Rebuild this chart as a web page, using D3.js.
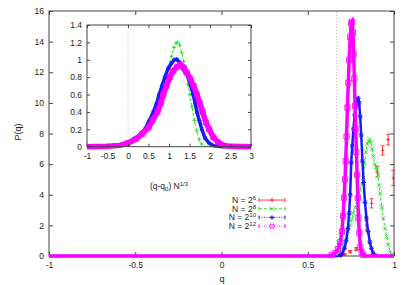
<!DOCTYPE html>
<html>
<head>
<meta charset="utf-8">
<script src="https://cdn.jsdelivr.net/npm/d3@7"></script>
<style>
  body { margin: 0; background: #fff; }
  svg { display: block; font-family: "Liberation Sans", Arial, sans-serif; }
</style>
</head>
<body>
<svg id="chart" width="407" height="285"></svg>
<script>
// exponent of N = 2^k for each curve
const exponents = ["6", "8", "10", "12"];

const xTicks = [-1, -0.5, 0, 0.5, 1];
const yTicks = [0, 2, 4, 6, 8, 10, 12, 14, 16];
const insetXTicks = [-1, -0.5, 0, 0.5, 1, 1.5, 2, 2.5, 3];
const insetYTicks = [0, 0.2, 0.4, 0.6, 0.8, 1, 1.2, 1.4];
const qMark = 0.667;   // dotted line in main plot
const insetMark = 0;   // dotted line in inset

// main plot, [q, P(q)] ; N=2^6 has [q, P, error]
const mainN6 = [
  [0.685, 0.05, 0.04], [0.714, 0.10, 0.05], [0.745, 0.28, 0.08], [0.781, 0.46, 0.1],
  [0.84, 2.0, 0.3], [0.87, 3.44, 0.3], [0.903, 5.5, 0.35], [0.934, 6.9, 0.3],
  [0.966, 7.6, 0.35], [0.996, 5.1, 0.5]
];
const mainN8 = [
  [-1, 0], [0.67, 0], [0.68, 0.05], [0.687, 0.17], [0.697, 0.35], [0.706, 0.6], [0.716, 0.9],
  [0.726, 1.26], [0.735, 1.6], [0.745, 2.0], [0.755, 2.4], [0.764, 2.8], [0.774, 3.15],
  [0.787, 3.55], [0.796, 3.9], [0.803, 4.3], [0.813, 4.7], [0.822, 5.1], [0.83, 6.0],
  [0.838, 6.8], [0.845, 7.3], [0.852, 7.5], [0.859, 7.6], [0.866, 7.4], [0.873, 7.0],
  [0.88, 6.5], [0.888, 6.0], [0.896, 5.8], [0.903, 5.6], [0.909, 5.3], [0.914, 4.6],
  [0.919, 4.1], [0.929, 3.2], [0.938, 2.46], [0.948, 1.8], [0.958, 1.26], [0.967, 0.72],
  [0.977, 0.28], [0.987, 0.08], [0.995, 0], [1, 0]
];
const mainN10 = [
  [-1, 0], [0.67, 0], [0.69, 0.05], [0.70, 0.15], [0.713, 0.5], [0.723, 1.0], [0.733, 1.8],
  [0.74, 2.8], [0.746, 4.0], [0.752, 6.1], [0.758, 7.2], [0.765, 8.3], [0.772, 9.2],
  [0.779, 9.8], [0.786, 10.2], [0.792, 10.3], [0.798, 10.0], [0.804, 9.1], [0.81, 7.9],
  [0.817, 6.2], [0.824, 4.8], [0.832, 3.5], [0.84, 2.5], [0.85, 1.6], [0.86, 0.9],
  [0.869, 0.5], [0.878, 0.2], [0.89, 0.05], [0.90, 0], [1, 0]
];
const mainN12 = [
  [-1, 0], [0.62, 0], [0.64, 0.05], [0.66, 0.2], [0.675, 0.45], [0.688, 0.9], [0.698, 1.6],
  [0.705, 2.6], [0.711, 3.8], [0.716, 5.0], [0.72, 6.2], [0.725, 7.8], [0.73, 9.7],
  [0.735, 11.3], [0.74, 12.8], [0.746, 14.3], [0.752, 15.2], [0.757, 15.3], [0.762, 14.6],
  [0.766, 13.2], [0.77, 11.6], [0.774, 9.8], [0.778, 8.3], [0.782, 6.8], [0.786, 5.3],
  [0.79, 3.8], [0.794, 2.5], [0.799, 1.5], [0.805, 0.6], [0.812, 0.25], [0.82, 0.08],
  [0.83, 0], [1, 0]
];

// inset, [(q-q0) N^1/3, P]
const insetN8 = [
  [-1, 0], [-0.5, 0.003], [0, 0.04], [0.2, 0.08], [0.4, 0.18], [0.6, 0.38], [0.75, 0.58],
  [0.85, 0.73], [0.93, 0.82], [1.0, 0.93], [1.06, 1.04], [1.12, 1.14], [1.17, 1.19],
  [1.21, 1.2], [1.26, 1.17], [1.31, 1.08], [1.36, 0.98], [1.41, 0.86], [1.46, 0.72],
  [1.51, 0.6], [1.56, 0.46], [1.62, 0.3], [1.68, 0.18], [1.74, 0.08], [1.8, 0.03],
  [1.87, 0.005], [1.95, 0], [3, 0]
];
const insetN10 = [
  [-1, 0], [-0.5, 0.005], [-0.2, 0.02], [0, 0.05], [0.15, 0.09], [0.3, 0.14], [0.41, 0.2],
  [0.52, 0.3], [0.62, 0.4], [0.7, 0.5], [0.76, 0.6], [0.83, 0.7], [0.9, 0.8], [0.98, 0.9],
  [1.06, 0.96], [1.13, 1.0], [1.19, 1.005], [1.26, 0.97], [1.33, 0.9], [1.4, 0.85],
  [1.47, 0.8], [1.53, 0.7], [1.59, 0.6], [1.64, 0.5], [1.68, 0.4], [1.74, 0.3], [1.8, 0.2],
  [1.88, 0.1], [1.98, 0.04], [2.1, 0.01], [2.3, 0], [3, 0]
];
const insetN12 = [
  [-1, 0], [-0.5, 0.005], [-0.2, 0.015], [0, 0.04], [0.2, 0.09], [0.35, 0.15], [0.5, 0.22],
  [0.6, 0.3], [0.72, 0.4], [0.8, 0.5], [0.86, 0.6], [0.94, 0.7], [1.02, 0.8], [1.1, 0.87],
  [1.2, 0.92], [1.28, 0.94], [1.36, 0.91], [1.44, 0.85], [1.52, 0.78], [1.6, 0.7],
  [1.68, 0.6], [1.75, 0.5], [1.82, 0.4], [1.9, 0.28], [1.98, 0.2], [2.08, 0.11],
  [2.2, 0.05], [2.35, 0.015], [2.5, 0.004], [3, 0]
];

const colors = ["#ff2a2a", "#22dd22", "#1a1aff", "#ff00ff"];
const dashes = [null, "3,2", "1,1.5", "1,1.5"];
const markers = ["plus", "cross", "star", "square"];

const svg = d3.select("#chart");

// marker shapes
function markerPath(type, s) {
  if (type === "plus") return `M${-s},0H${s}M0,${-s}V${s}`;
  if (type === "cross") return `M${-s},${-s}L${s},${s}M${-s},${s}L${s},${-s}`;
  if (type === "star") return `M${-s},0H${s}M0,${-s}V${s}M${-s*0.75},${-s*0.75}L${s*0.75},${s*0.75}M${-s*0.75},${s*0.75}L${s*0.75},${-s*0.75}`;
  return `M${-s},${-s}H${s}V${s}H${-s}Z`;
}

function drawMarkers(g, data, x, y, type, color, s, width) {
  g.append("g").selectAll("path")
    .data(data)
    .enter().append("path")
    .attr("transform", d => `translate(${x(d[0])},${y(d[1])})`)
    .attr("d", markerPath(type, s))
    .attr("fill", "none")
    .attr("stroke", color)
    .attr("stroke-width", width);
}

function frame(g, x, y, xt, yt, tick) {
  const [x0, x1] = x.range(), [y0, y1] = y.range();
  const fmt = d => String(d);
  g.append("g").attr("transform", `translate(0,${y0})`)
    .call(d3.axisBottom(x).tickValues(xt).tickSize(-tick).tickPadding(6).tickFormat(fmt));
  g.append("g").attr("transform", `translate(${x0},0)`)
    .call(d3.axisLeft(y).tickValues(yt).tickSize(-tick).tickPadding(5).tickFormat(fmt));
  g.append("g").attr("transform", `translate(0,${y1})`)
    .call(d3.axisTop(x).tickValues(xt).tickSize(-tick).tickFormat(""));
  g.append("g").attr("transform", `translate(${x1},0)`)
    .call(d3.axisRight(y).tickValues(yt).tickSize(-tick).tickFormat(""));
  g.selectAll(".domain").remove();
  g.selectAll(".tick line").attr("stroke", "#444");
  g.selectAll(".tick text").attr("font-size", 8.5).attr("fill", "#222")
    .attr("font-family", "Liberation Sans, Arial, sans-serif");
  g.append("rect")
    .attr("x", x0).attr("y", y1).attr("width", x1 - x0).attr("height", y0 - y1)
    .attr("fill", "none").attr("stroke", "#444").attr("stroke-width", 1);
}

// ---------- main plot ----------
const x = d3.scaleLinear().domain([-1, 1]).range([49, 394]);
const y = d3.scaleLinear().domain([0, 16]).range([256, 11]);
const main = svg.append("g");

main.append("line")
  .attr("x1", x(qMark)).attr("x2", x(qMark)).attr("y1", y(0)).attr("y2", y(16))
  .attr("stroke", "#aaa").attr("stroke-width", 0.8).attr("stroke-dasharray", "1,2");

frame(main, x, y, xTicks, yTicks, 4);

const line = d3.line().x(d => x(d[0])).y(d => y(d[1]));

// N = 2^6: points with error bars
const eb = main.append("g").attr("stroke", colors[0]).attr("stroke-width", 0.9);
mainN6.forEach(d => {
  const cx = x(d[0]), ylo = y(d[1] - d[2]), yhi = y(d[1] + d[2]);
  eb.append("line").attr("x1", cx).attr("x2", cx).attr("y1", ylo).attr("y2", yhi);
  eb.append("line").attr("x1", cx - 2).attr("x2", cx + 2).attr("y1", ylo).attr("y2", ylo);
  eb.append("line").attr("x1", cx - 2).attr("x2", cx + 2).attr("y1", yhi).attr("y2", yhi);
});
drawMarkers(main, mainN6, x, y, "plus", colors[0], 1.8, 0.9);

// N = 2^8
main.append("path").datum(mainN8).attr("d", line)
  .attr("fill", "none").attr("stroke", colors[1]).attr("stroke-width", 1)
  .attr("stroke-dasharray", dashes[1]);
drawMarkers(main, mainN8.filter(d => d[1] > 0), x, y, "cross", colors[1], 2, 0.9);

// N = 2^10
main.append("path").datum(mainN10).attr("d", line)
  .attr("fill", "none").attr("stroke", colors[2]).attr("stroke-width", 2.5);
drawMarkers(main, mainN10.filter(d => d[1] > 0), x, y, "star", colors[2], 2.4, 1);

// N = 2^12
main.append("path").datum(mainN12).attr("d", line)
  .attr("fill", "none").attr("stroke", colors[3]).attr("stroke-width", 3.5);
drawMarkers(main, mainN12.filter(d => d[1] > 0), x, y, "square", colors[3], 2.6, 0.9);

main.append("text").attr("x", 222).attr("y", 282).attr("text-anchor", "middle")
  .attr("font-size", 9).attr("fill", "#222").text("q");
main.append("text").attr("transform", "translate(21,132) rotate(-90)")
  .attr("text-anchor", "middle").attr("font-size", 9).attr("fill", "#222").text("P(q)");

// ---------- inset ----------
const xi = d3.scaleLinear().domain([-1, 3]).range([87, 251]);
const yi = d3.scaleLinear().domain([0, 1.4]).range([146.7, 25]);
const inset = svg.append("g");
inset.append("rect").attr("x", 87).attr("y", 25).attr("width", 164).attr("height", 121.7)
  .attr("fill", "#fff");
inset.append("line")
  .attr("x1", xi(insetMark)).attr("x2", xi(insetMark)).attr("y1", yi(0)).attr("y2", yi(1.4))
  .attr("stroke", "#aaa").attr("stroke-width", 0.8).attr("stroke-dasharray", "1,2");

const iline = d3.line().x(d => xi(d[0])).y(d => yi(d[1]));
inset.append("path").datum(insetN8).attr("d", iline)
  .attr("fill", "none").attr("stroke", colors[1]).attr("stroke-width", 1)
  .attr("stroke-dasharray", dashes[1]);
drawMarkers(inset, insetN8.filter(d => d[1] > 0.02), xi, yi, "plus", colors[1], 2, 0.9);
inset.append("path").datum(insetN10).attr("d", iline)
  .attr("fill", "none").attr("stroke", colors[2]).attr("stroke-width", 3.5);
drawMarkers(inset, insetN10.filter(d => d[1] > 0.02), xi, yi, "star", colors[2], 2.2, 0.9);
inset.append("path").datum(insetN12).attr("d", iline)
  .attr("fill", "none").attr("stroke", colors[3]).attr("stroke-width", 5.5);
drawMarkers(inset, insetN12.filter(d => d[1] > 0.02), xi, yi, "square", colors[3], 2.6, 0.8);

frame(inset, xi, yi, insetXTicks, insetYTicks, 3);

const il = inset.append("text").attr("x", 169).attr("y", 189).attr("text-anchor", "middle")
  .attr("font-size", 8.5).attr("fill", "#222");
il.append("tspan").text("(q-q");
il.append("tspan").attr("font-size", 6).attr("dy", 2).text("0");
il.append("tspan").attr("dy", -2).text(") N");
il.append("tspan").attr("font-size", 6).attr("dy", -3.5).text("1/3");

// ---------- legend ----------
const rowY = d3.scaleBand().domain(exponents).range([195.7, 230.5]);
const legend = svg.append("g");
exponents.forEach((k, i) => {
  const cy = rowY(k) + rowY.bandwidth() / 2;
  const t = legend.append("text").attr("x", 256).attr("y", cy + 3)
    .attr("text-anchor", "end").attr("font-size", 8.5).attr("fill", "#222");
  t.append("tspan").text("N = 2");
  t.append("tspan").attr("font-size", 6).attr("dy", -3).text(k);
  const g = legend.append("g").attr("stroke", colors[i]).attr("stroke-width", 0.9);
  g.append("line").attr("x1", 259).attr("x2", 285).attr("y1", cy).attr("y2", cy)
    .attr("stroke-dasharray", dashes[i]);
  g.append("line").attr("x1", 259).attr("x2", 259).attr("y1", cy - 2).attr("y2", cy + 2);
  g.append("line").attr("x1", 285).attr("x2", 285).attr("y1", cy - 2).attr("y2", cy + 2);
  g.append("path").attr("transform", `translate(272,${cy})`)
    .attr("d", markerPath(markers[i], markers[i] === "square" ? 2 : 2.2))
    .attr("fill", "none");
});
</script>
</body>
</html>
